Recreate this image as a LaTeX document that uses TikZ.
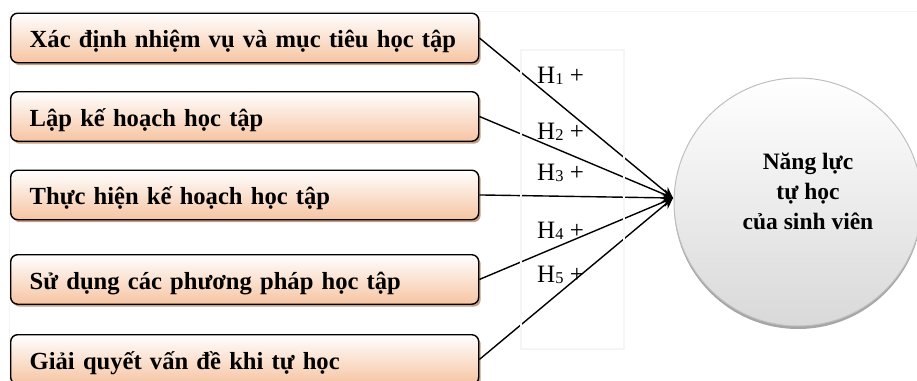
\documentclass[tikz,border=0pt]{standalone}
\usepackage{fontspec}
\setmainfont{Liberation Serif}
\usetikzlibrary{arrows.meta,shadows}
\definecolor{peach}{RGB}{246,196,162}
\definecolor{boxshadow}{RGB}{196,160,134}
\newcommand{\hyp}[1]{H\raisebox{-1.5pt}{\fontsize{16.5}{16.5}\selectfont #1}~+}
\begin{document}
\begin{tikzpicture}[x=1pt,y=-1pt,
  factor/.style={draw=black, line width=1.4pt, rounded corners=7pt,
    top color=white, bottom color=peach,
    drop shadow={shadow xshift=2pt, shadow yshift=-2.5pt, fill=boxshadow, opacity=1},
    text width=440pt, inner xsep=14pt, inner ysep=0pt,
    text height=34.5pt, text depth=15pt, align=left,
    font=\fontsize{24.6}{30}\selectfont\bfseries, anchor=north west},
  target/.style={circle, minimum size=248pt, draw=black!25, line width=1pt,
    top color=white, bottom color=black!15,
    drop shadow={shadow xshift=0pt, shadow yshift=-3pt, fill=black!35, opacity=1}},
  hlabel/.style={anchor=base west, inner sep=0pt, font=\fontsize{25}{28}\selectfont},
  link/.style={line width=1.4pt, -{Stealth[length=11pt,width=10pt]}},
  faint/.style={draw=black!4, line width=1.2pt}
]
\useasboundingbox (0,0) rectangle (917,380);
\draw[draw=black!4, line width=0.8pt] (9,11) rectangle (940,400);

\node[factor] (f1) at (10,12.5) {\hspace*{5pt}Xác định nhiệm vụ và mục tiêu học tập};
\node[factor] (f2) at (10,91) {\hspace*{5pt}Lập kế hoạch học tập};
\node[factor] (f3) at (10,169.5) {\hspace*{5pt}Thực hiện kế hoạch học tập};
\node[factor] (f4) at (10,254) {\hspace*{5pt}Sử dụng các phương pháp học tập};
\node[factor] (f5) at (10,334) {\hspace*{5pt}Giải quyết vấn đề khi tự học};

\node[target] (nl) at (798,202) {};
\node[align=center, inner sep=0pt, font=\fontsize{23.5}{30}\selectfont\bfseries] (nltext) at (808,191) {Năng lực\\tự học\\của sinh viên};

\node[hlabel] (h1) at (537,83) {\hyp{1}};
\node[hlabel] (h2) at (537,139) {\hyp{2}};
\node[hlabel] (h3) at (537,180) {\hyp{3}};
\node[hlabel] (h4) at (537,238) {\hyp{4}};
\node[hlabel] (h5) at (537,282) {\hyp{5}};

\coordinate (tip) at (673,198);
\draw[link] (f1.east) -- (tip);
\draw[link] (f2.east) -- (tip);
\draw[link] (f3.east) -- (tip);
\draw[link] (f4.east) -- (tip);
\draw[link] (f5.east) -- (tip);

\draw[faint] (521,50) rectangle (624,349);
\end{tikzpicture}
\end{document}
